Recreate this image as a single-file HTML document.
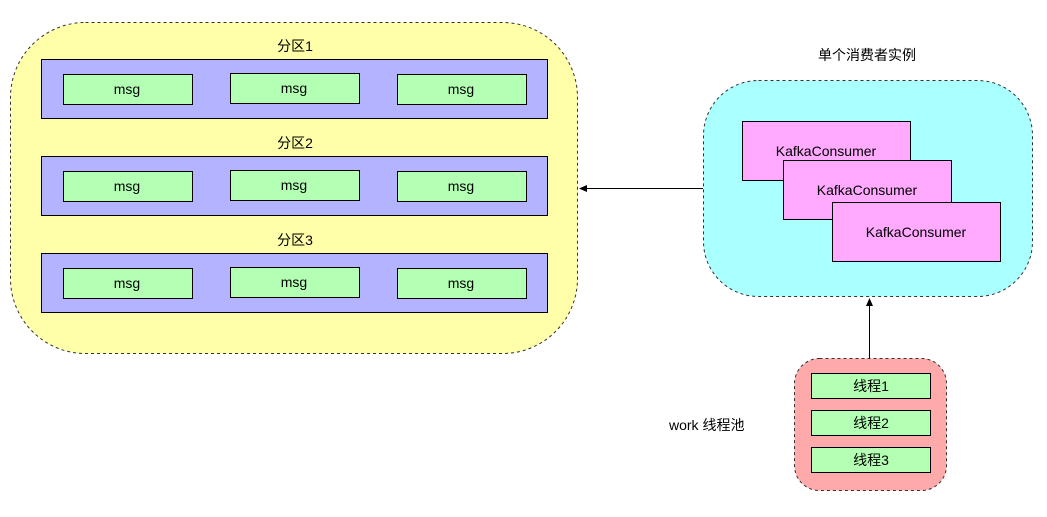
<!DOCTYPE html>
<html><head><meta charset="utf-8"><style>
body{margin:0;background:#fff;}
svg text{font-family:"Liberation Sans","Noto Sans CJK SC",sans-serif;font-size:14px;fill:#000;}
</style></head><body>
<svg width="1047" height="512" viewBox="0 0 1047 512" xmlns="http://www.w3.org/2000/svg">
<rect x="10.5" y="22.5" width="567" height="331" rx="75" ry="75" fill="#ffffaa" stroke="#333" stroke-dasharray="3 3"/>
<g text-anchor="middle">
<text x="295" y="51">分区1</text>
<text x="295" y="148">分区2</text>
<text x="295" y="245">分区3</text>
</g>
<g stroke="#000" fill="#b3b3ff">
<rect x="41.5" y="59.5" width="506" height="59"/>
<rect x="41.5" y="156.5" width="506" height="59"/>
<rect x="41.5" y="253.5" width="506" height="59"/>
</g>
<g stroke="#000" fill="#b3ffb3">
<rect x="63.5" y="74.5" width="129" height="30"/><rect x="230.5" y="73.5" width="129" height="30"/><rect x="397.5" y="74.5" width="129" height="30"/>
<rect x="63.5" y="171.5" width="129" height="30"/><rect x="230.5" y="170.5" width="129" height="30"/><rect x="397.5" y="171.5" width="129" height="30"/>
<rect x="63.5" y="268.5" width="129" height="30"/><rect x="230.5" y="267.5" width="129" height="30"/><rect x="397.5" y="268.5" width="129" height="30"/>
</g>
<g text-anchor="middle">
<text x="127" y="94">msg</text><text x="294" y="93">msg</text><text x="461" y="94">msg</text>
<text x="127" y="191">msg</text><text x="294" y="190">msg</text><text x="461" y="191">msg</text>
<text x="127" y="288">msg</text><text x="294" y="287">msg</text><text x="461" y="288">msg</text>
</g>
<text x="867" y="60" text-anchor="middle">单个消费者实例</text>
<rect x="703.5" y="80.5" width="329" height="216" rx="55" ry="55" fill="#aaffff" stroke="#333" stroke-dasharray="3 3"/>
<g stroke="#000" fill="#ffaaff">
<rect x="742.5" y="121.5" width="168" height="59"/>
<rect x="783.5" y="160.5" width="168" height="59"/>
<rect x="832.5" y="202.5" width="168" height="59"/>
</g>
<g text-anchor="middle">
<text x="826" y="156">KafkaConsumer</text>
<text x="867" y="195">KafkaConsumer</text>
<text x="916" y="237">KafkaConsumer</text>
</g>
<line x1="703" y1="188.5" x2="586" y2="188.5" stroke="#000"/>
<polygon points="579,188.5 587,185 587,192" fill="#000"/>
<line x1="869.5" y1="358" x2="869.5" y2="305" stroke="#000"/>
<polygon points="869.5,298 866,306 873,306" fill="#000"/>
<rect x="794.5" y="358.5" width="152" height="132" rx="25" ry="25" fill="#ffaaaa" stroke="#333" stroke-dasharray="3 3"/>
<g stroke="#000" fill="#b3ffb3">
<rect x="811.5" y="373.5" width="119" height="25"/>
<rect x="811.5" y="410.5" width="119" height="25"/>
<rect x="811.5" y="447.5" width="119" height="25"/>
</g>
<g text-anchor="middle">
<text x="871" y="391">线程1</text>
<text x="871" y="428">线程2</text>
<text x="871" y="465">线程3</text>
</g>
<text x="669" y="430">work 线程池</text>
</svg>
</body></html>
